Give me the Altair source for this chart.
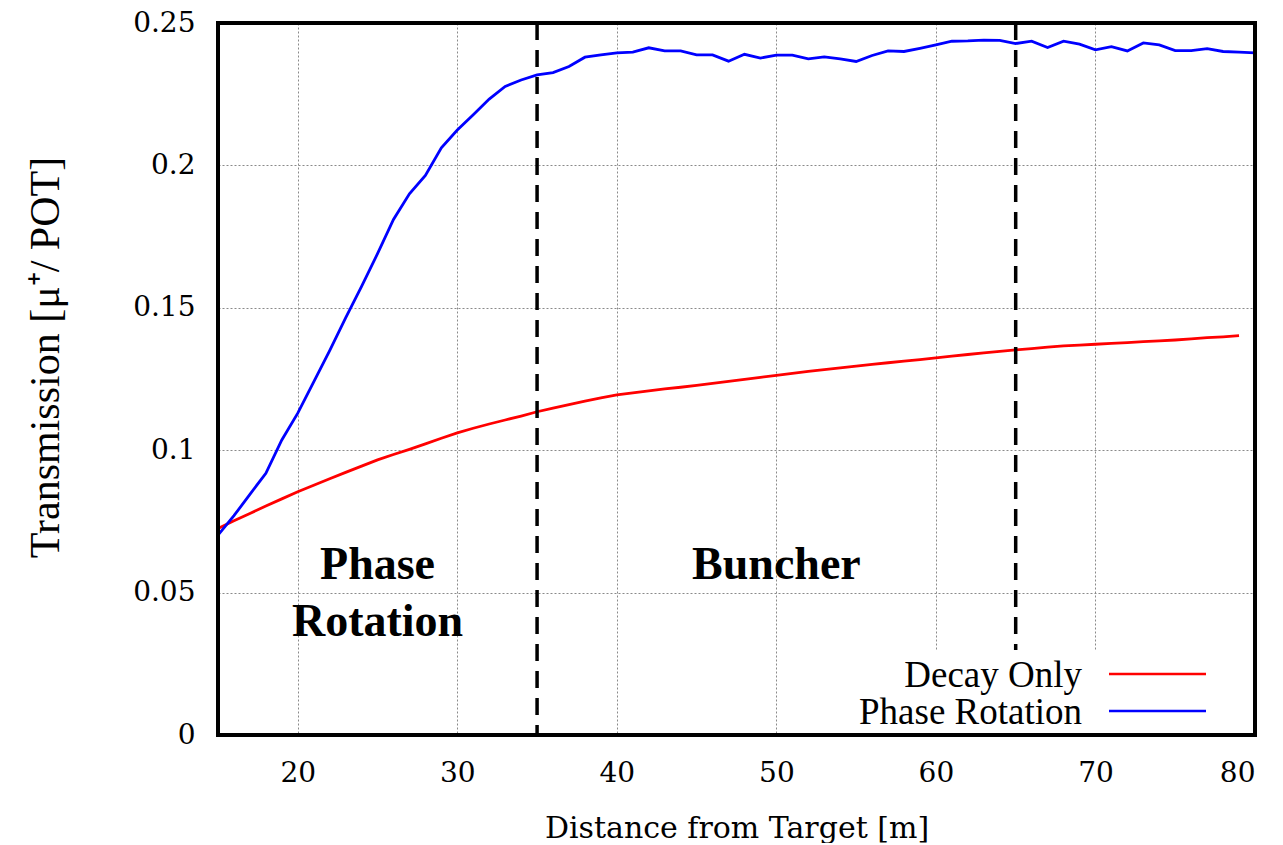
import altair as alt
import pandas as pd

# ---- data ----
dist_blue = list(range(15, 81))
phase_rotation = [
    0.0702, 0.0770, 0.0845, 0.0919, 0.1036, 0.1130, 0.1240, 0.1350, 0.1465, 0.1575,
    0.1690, 0.1810, 0.1900, 0.1965, 0.2062, 0.2124, 0.2178, 0.2233, 0.2277, 0.2300,
    0.2318, 0.2326, 0.2347, 0.2380, 0.2388, 0.2395, 0.2398, 0.2413, 0.2402, 0.2402,
    0.2388, 0.2388, 0.2366, 0.2390, 0.2377, 0.2387, 0.2387, 0.2374, 0.2381, 0.2374,
    0.2365, 0.2386, 0.2402, 0.2400, 0.2411, 0.2423, 0.2436, 0.2437, 0.2440, 0.2439,
    0.2428, 0.2436, 0.2414, 0.2436, 0.2426, 0.2406, 0.2417, 0.2402, 0.2430, 0.2423,
    0.2403, 0.2403, 0.2410, 0.2400, 0.2398, 0.2395,
]
dist_red = list(range(15, 80))
decay_only = [
    0.0725, 0.0752, 0.0778, 0.0804, 0.0829, 0.0854, 0.0877, 0.0900, 0.0922, 0.0944,
    0.0966, 0.0985, 0.1003, 0.1022, 0.1042, 0.1061, 0.1077, 0.1092, 0.1106, 0.1120,
    0.1135, 0.1148, 0.1160, 0.1172, 0.1184, 0.1194, 0.1201, 0.1208, 0.1215, 0.1221,
    0.1228, 0.1235, 0.1242, 0.1249, 0.1256, 0.1263, 0.1270, 0.1277, 0.1283, 0.1289,
    0.1295, 0.1301, 0.1307, 0.1313, 0.1318, 0.1324, 0.1330, 0.1336, 0.1342, 0.1347,
    0.1352, 0.1357, 0.1362, 0.1366, 0.1369, 0.1372, 0.1375, 0.1378, 0.1381, 0.1384,
    0.1387, 0.1391, 0.1395, 0.1398, 0.1402,
]
section_bounds = [35, 65]
series_names = ["Decay Only", "Phase Rotation"]
series_colors = ["#ff0000", "#0000ff"]
x_ticks = [20, 30, 40, 50, 60, 70, 80]
y_ticks = [0, 0.05, 0.1, 0.15, 0.2, 0.25]
labels_text = ["Phase", "Rotation", "Buncher"]
labels_x = [25, 25, 50]
labels_y = [0.0597, 0.0397, 0.0597]

W, H = 1037, 712

df = pd.concat([
    pd.DataFrame({"d": dist_red, "t": decay_only, "s": series_names[0]}),
    pd.DataFrame({"d": dist_blue, "t": phase_rotation, "s": series_names[1]}),
])

xs = alt.Scale(domain=[15, 80], nice=False, zero=False)
ys = alt.Scale(domain=[0, 0.25], nice=False)
color = alt.Color("s:N", scale=alt.Scale(domain=series_names, range=series_colors), legend=None)

lines = alt.Chart(df).mark_line(strokeWidth=2.8).encode(
    x=alt.X("d:Q", scale=xs, title="Distance from Target [m]",
            axis=alt.Axis(values=x_ticks, grid=True, gridDash=[2, 2], gridColor="#8a8a8a",
                          gridWidth=1, ticks=False, domain=False, labelPadding=24,
                          labelFont="DejaVu Serif", labelFontSize=28, labelColor="black",
                          titleFont="DejaVu Serif", titleFontSize=30, titleFontWeight="normal",
                          titleColor="black", titleY=93, titleBaseline="middle")),
    y=alt.Y("t:Q", scale=ys, title="Transmission [μ⁺/ POT]",
            axis=alt.Axis(values=y_ticks, format="~g", grid=True, gridDash=[2, 2],
                          gridColor="#8a8a8a", gridWidth=1, ticks=False, domain=False,
                          labelPadding=23, labelFont="DejaVu Serif", labelFontSize=28,
                          labelColor="black", titleFont="Liberation Serif", titleFontSize=42,
                          titleFontWeight="normal", titleColor="black", titleX=-173,
                          titleY=334, titleAngle=-90, titleBaseline="middle",
                          titleAlign="center")),
    color=color,
    detail="s:N",
)

rules = alt.Chart(pd.DataFrame({"b": section_bounds})).mark_rule(
    color="black", strokeWidth=3.5, strokeDash=[17, 10]
).encode(x=alt.X("b:Q", scale=xs), y=alt.value(0), y2=alt.value(H))

legend_box = alt.Chart(pd.DataFrame({"k": [0]})).mark_rect(color="white").encode(
    x=alt.value(612), x2=alt.value(W - 2), y=alt.value(627), y2=alt.value(H - 2)
)

legend_layers = []
for i, (name, col) in enumerate(zip(series_names, series_colors)):
    row = pd.DataFrame({"s": [name]})
    legend_layers.append(
        alt.Chart(row).mark_text(
            align="right", baseline="middle", font="Liberation Serif", fontSize=37,
            color="black"
        ).encode(x=alt.value(864), y=alt.value(653 + 37 * i), text="s:N")
    )
    legend_layers.append(
        alt.Chart(row).mark_rule(strokeWidth=2.5, color=col).encode(
            x=alt.value(891), x2=alt.value(988), y=alt.value(651 + 37 * i)
        )
    )

ann = alt.Chart(pd.DataFrame({"txt": labels_text, "x": labels_x, "y": labels_y})).mark_text(
    font="Liberation Serif", fontSize=46, fontWeight="bold", color="black",
    align="center", baseline="middle"
).encode(x=alt.X("x:Q", scale=xs), y=alt.Y("y:Q", scale=ys), text="txt:N")

frame = alt.Chart(pd.DataFrame({"k": [0]})).mark_rect(
    fill=None, stroke="black", strokeWidth=4
).encode(x=alt.value(0), x2=alt.value(W), y=alt.value(0), y2=alt.value(H))

chart = alt.layer(lines, rules, legend_box, *legend_layers, ann, frame).properties(
    width=W, height=H,
    autosize=alt.AutoSizeParams(type="none"),
    padding={"left": 210, "top": 15, "right": 20, "bottom": 108},
    background="white",
).configure_view(stroke=None)

chart.save("out.html", embed_options={"renderer": "svg", "actions": False})
